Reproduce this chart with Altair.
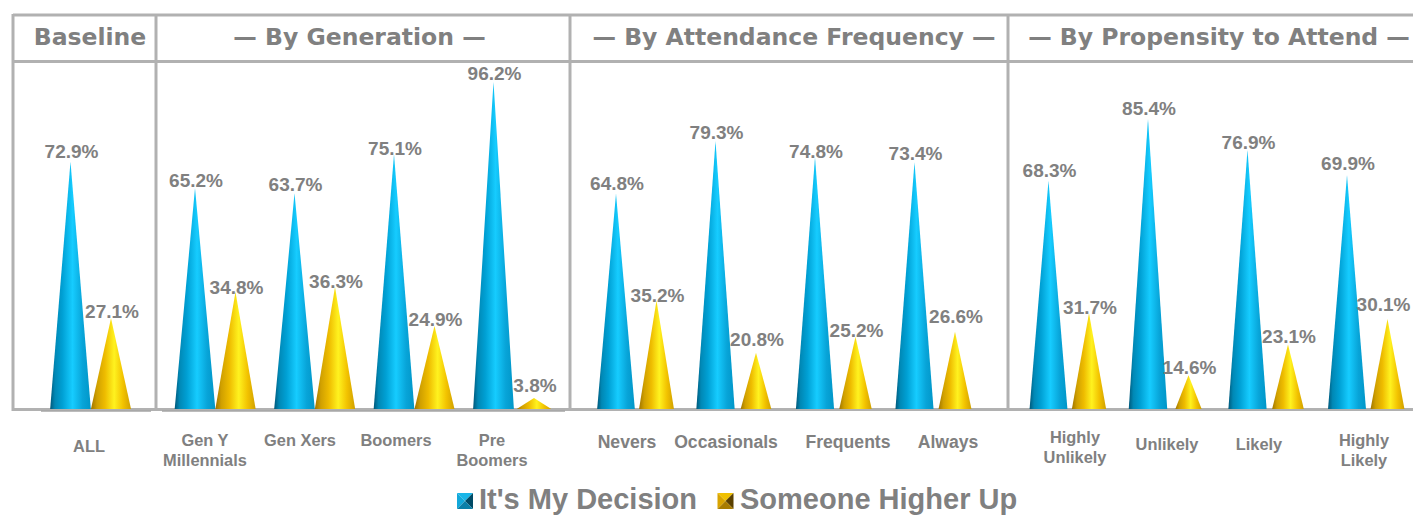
import altair as alt
import pandas as pd

# ---- data ----
sections = ["Baseline", "— By Generation —", "— By Attendance Frequency —", "— By Propensity to Attend —"]
categories = [
    ["ALL"],
    ["Gen Y\nMillennials", "Gen Xers", "Boomers", "Pre\nBoomers"],
    ["Nevers", "Occasionals", "Frequents", "Always"],
    ["Highly\nUnlikely", "Unlikely", "Likely", "Highly\nLikely"],
]
my_decision = [[72.9], [65.2, 63.7, 75.1, 96.2], [64.8, 79.3, 74.8, 73.4], [68.3, 85.4, 76.9, 69.9]]
higher_up = [[27.1], [34.8, 36.3, 24.9, 3.8], [35.2, 20.8, 25.2, 26.6], [31.7, 14.6, 23.1, 30.1]]
series_names = ["It's My Decision", "Someone Higher Up"]

# ---- layout (px on the page; the page margin is 8) ----
W, H = 1405, 507
M = 8
SLOT = 99.5                    # px per category
OFFSET = 40.5 / SLOT           # blue -> gold cone
HALF = 20.5 / SLOT             # cone half width at value-axis zero
first_center = [70.5, 195, 616, 1048.5]
axis_min = [0.6, 0.6, 5.25, 5.25]     # each panel's value axis starts here
k = [3.42, 3.42, 3.62, 3.62]          # px per percent
BASE = 409
header_x = [90, 359.5, 794, 1219]
cat_x = [[89], [205, 300, 396, 492], [627, 726, 848, 948], [1075, 1167, 1259, 1364]]
cat_y = [[447], [441, 441, 441, 441], [443, 443, 443, 443], [438, 445, 445, 441]]
cat_size = [16.4, 16.4, 17.6, 16.4]
# hand placement of the value labels, px downward from just above the cone tip
blue_label_nudge = [[1], [4, 3, 6, 3], [2, 3, 6, 3], [1, 1, 4, 0]]
gold_label_nudge = [[5], [7, 6, 5, -1], [6, -2, 5, -4], [6, 4, 4, -3]]
gold_label_x_nudge = {(3, 3): -5}

GRAY = "#808080"
LINE = "#b1b1b1"
BLUE = alt.Gradient(gradient="linear", x1=0, x2=1, y1=0, y2=0, stops=[
    alt.GradientStop(offset=0, color="#00587a"),
    alt.GradientStop(offset=0.12, color="#0088b5"),
    alt.GradientStop(offset=0.3, color="#00a0d4"),
    alt.GradientStop(offset=0.55, color="#16ccff"),
    alt.GradientStop(offset=0.8, color="#08a4d8"),
    alt.GradientStop(offset=1, color="#0096c8"),
])
GOLD = alt.Gradient(gradient="linear", x1=0, x2=1, y1=0, y2=0, stops=[
    alt.GradientStop(offset=0, color="#a07500"),
    alt.GradientStop(offset=0.15, color="#d0a000"),
    alt.GradientStop(offset=0.35, color="#eebc00"),
    alt.GradientStop(offset=0.58, color="#fff21f"),
    alt.GradientStop(offset=0.8, color="#f2c200"),
    alt.GradientStop(offset=1, color="#d0a000"),
])

x_scale = alt.Scale(domain=[0, W / SLOT], range=[0, W], nice=False, zero=False)


def to_slot(px):
    return (px - M) / SLOT


def panel_layers(p):
    m, s = axis_min[p], k[p]
    below, above = (H - (BASE - M)) / s, (BASE - M) / s
    y_scale = alt.Scale(domain=[m - below, m + above], range=[H, 0], nice=False, zero=False)
    cones, labels = [], []
    for i, name in enumerate(categories[p]):
        for series, vals, off, nudges in (
            (0, my_decision[p], 0, blue_label_nudge[p]),
            (1, higher_up[p], OFFSET, gold_label_nudge[p]),
        ):
            v = vals[i]
            c = to_slot(first_center[p]) + i + off
            hw = HALF * (v - m) / v
            for dx, top in ((-hw, m), (0, v), (hw, m)):
                cones.append({"id": f"{p}-{i}-{series}", "series": series, "x": c + dx, "y": top, "base": m})
            xn = gold_label_x_nudge.get((p, i), 0) if series == 1 else 0
            labels.append({"x": c + (1 + xn) / SLOT, "y": v - nudges[i] / s, "text": f"{v:.1f}%"})
    cones = pd.DataFrame(cones)
    out = []
    for series, fill in ((0, BLUE), (1, GOLD)):
        out.append(alt.Chart(cones[cones.series == series]).mark_area(color=fill).encode(
            x=alt.X("x:Q", scale=x_scale, axis=None),
            y=alt.Y("y:Q", scale=y_scale, axis=None),
            y2="base:Q",
            detail="id:N",
        ))
    out.append(alt.Chart(pd.DataFrame(labels)).mark_text(
        font="Liberation Sans", fontWeight="bold", fontSize=19, color=GRAY, baseline="bottom", dy=-1
    ).encode(
        x=alt.X("x:Q", scale=x_scale, axis=None),
        y=alt.Y("y:Q", scale=y_scale, axis=None),
        text="text:N",
    ))
    return alt.layer(*out)


# frame
frame = pd.DataFrame([
    {"x": 13, "x2": 1421, "y": 15, "y2": 15},
    {"x": 13, "x2": 1421, "y": 61.5, "y2": 61.5},
    {"x": 13, "x2": 1421, "y": 409.5, "y2": 409.5},
    {"x": 13, "x2": 13, "y": 14, "y2": 411},
    {"x": 156, "x2": 156, "y": 14, "y2": 411},
    {"x": 570, "x2": 570, "y": 14, "y2": 411},
    {"x": 1008, "x2": 1008, "y": 14, "y2": 411},
])
for col in frame.columns:
    frame[col] = frame[col] - M
frame_layer = alt.Chart(frame).mark_rule(color=LINE, strokeWidth=3).encode(
    x=alt.X("x:Q", scale=None, axis=None), x2="x2:Q",
    y=alt.Y("y:Q", scale=None, axis=None), y2="y2:Q",
)
shadow = pd.DataFrame({"x": [41 - M, 162 - M], "x2": [151 - M, 565 - M], "y": [411 - M] * 2})
shadow_layer = alt.Chart(shadow).mark_rule(color="#a6a6a6", strokeWidth=1.5).encode(
    x=alt.X("x:Q", scale=None, axis=None), x2="x2:Q",
    y=alt.Y("y:Q", scale=None, axis=None),
)

# section headers
headers = pd.DataFrame({"x": [v - M for v in header_x], "y": [38 - M] * 4, "text": sections})
header_layer = alt.Chart(headers).mark_text(
    font="DejaVu Sans", fontWeight="bold", fontSize=23.5, color=GRAY, baseline="middle"
).encode(
    x=alt.X("x:Q", scale=None, axis=None), y=alt.Y("y:Q", scale=None, axis=None), text="text:N"
)

# category labels
cat_layers = []
for p in range(4):
    d = pd.DataFrame({
        "x": [v - M for v in cat_x[p]], "y": [v - M for v in cat_y[p]], "text": categories[p],
    })
    cat_layers.append(alt.Chart(d).mark_text(
        font="Liberation Sans", fontWeight="bold", fontSize=cat_size[p], color=GRAY,
        baseline="middle", lineBreak="\n", lineHeight=20,
    ).encode(
        x=alt.X("x:Q", scale=None, axis=None), y=alt.Y("y:Q", scale=None, axis=None), text="text:N"
    ))

# legend: pyramid swatches + text
faces = {
    "top": "M-1,-1L1,-1L0,0Z",
    "left": "M-1,-1L0,0L-1,1Z",
    "right": "M1,-1L1,1L0,0Z",
    "bottom": "M-1,1L0,0L1,1Z",
}
swatch_colors = [
    {"top": "#19b6e8", "left": "#12a8da", "right": "#004a66", "bottom": "#0a7fa8"},
    {"top": "#f0c000", "left": "#d9a400", "right": "#5a4000", "bottom": "#a87c00"},
]
swatch_x = [465, 725.5]
rows = []
for sx, cols in zip(swatch_x, swatch_colors):
    for f, col in cols.items():
        rows.append({"x": sx - M, "y": 501 - M, "face": f, "col": col})
swatches = alt.Chart(pd.DataFrame(rows)).mark_point(filled=True, opacity=1, size=256).encode(
    x=alt.X("x:Q", scale=None, axis=None),
    y=alt.Y("y:Q", scale=None, axis=None),
    shape=alt.Shape("face:N", scale=alt.Scale(domain=list(faces), range=list(faces.values())), legend=None),
    fill=alt.Fill("col:N", scale=None),
)
legend_text = alt.Chart(pd.DataFrame({"x": [479 - M, 740 - M], "y": [509 - M] * 2, "text": series_names})).mark_text(
    font="Liberation Sans", fontWeight="bold", fontSize=29, color=GRAY, align="left", baseline="alphabetic"
).encode(
    x=alt.X("x:Q", scale=None, axis=None), y=alt.Y("y:Q", scale=None, axis=None), text="text:N"
)

panels = [panel_layers(p) for p in range(4)]
chart = alt.layer(
    frame_layer, shadow_layer, *panels, header_layer, *cat_layers, swatches, legend_text
).resolve_scale(y="independent").properties(
    width=W, height=H, padding=0, autosize=alt.AutoSizeParams(type="none"),
    background="white",
).configure_view(stroke=None)

chart.save("out.html", embed_options={"renderer": "svg", "actions": False})
